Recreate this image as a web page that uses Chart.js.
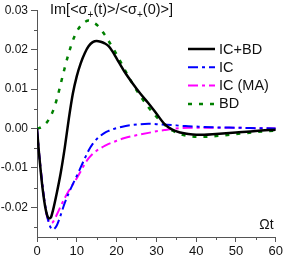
<!DOCTYPE html>
<html>
<head>
  <meta charset="UTF-8" />
  <title>Im sigma</title>
  <script src="https://cdn.jsdelivr.net/npm/chart.js"></script>
  <style>
    body{margin:0;background:#fff;}
    #c{display:block;}
  </style>
</head>
<body>
  <canvas id="c" width="285" height="256"></canvas>
  <script>
    // data
    const xValues = [0,0.5,1,1.5,2,2.5,3,3.5,4,5,6,7,8,9,10,11,12,13,14,15,16,17,18,19,20,22,24,26,28,30,32,34,36,38,40,42,45,50,55,60];
    const icbd = [0,-0.0062,-0.0115,-0.016,-0.0195,-0.0218,-0.0228,-0.0225,-0.0208,-0.0162,-0.011,-0.0047,0.0025,0.0088,0.0133,0.0166,0.0191,0.0209,0.0219,0.0222,0.022,0.0216,0.0209,0.0195,0.0178,0.0144,0.0115,0.0088,0.0064,0.0038,0.0012,-0.0003,-0.001,-0.0014,-0.0016,-0.0016,-0.0014,-0.001,-0.0006,-0.0003];
    const ic = [0,-0.006,-0.011,-0.0155,-0.0192,-0.022,-0.024,-0.0252,-0.0256,-0.0245,-0.0218,-0.0188,-0.0163,-0.0141,-0.012,-0.0098,-0.0076,-0.0055,-0.0039,-0.0027,-0.0018,-0.0011,-0.0006,-0.0002,0.0001,0.0006,0.0009,0.0011,0.0012,0.0011,0.001,0.0009,0.0007,0.0006,0.0005,0.0004,0.0003,0.0002,0.0001,0];
    const icma = [0,-0.006,-0.011,-0.0155,-0.0193,-0.0222,-0.0236,-0.024,-0.0237,-0.0218,-0.0196,-0.0176,-0.0158,-0.0142,-0.0126,-0.0108,-0.009,-0.0075,-0.0064,-0.0056,-0.005,-0.0044,-0.0039,-0.0035,-0.0031,-0.0024,-0.0019,-0.0015,-0.0011,-0.0007,-0.0004,-0.0001,0.0001,0.0002,0.0002,0.0002,0.0002,0.0002,0.0001,0];
    const bd = [0,0.0001,0.0003,0.0007,0.0011,0.0016,0.0024,0.0033,0.0044,0.0075,0.0115,0.0155,0.0192,0.0223,0.0246,0.0261,0.027,0.0274,0.0269,0.0263,0.0252,0.0238,0.0222,0.0205,0.0188,0.015,0.0114,0.0082,0.0054,0.003,0.001,-0.0005,-0.0014,-0.0019,-0.0021,-0.0021,-0.0019,-0.0014,-0.0009,-0.0005];

    const seriesLabels = ['IC+BD','IC','IC (MA)','BD'];
    const xTicks = [0,10,20,30,40,50,60];
    const xTickLabels = ['0','10','20','30','40','50','60'];
    const xMinor = [5,15,25,35,45,55];
    const yTicks = [-0.02,-0.01,0,0.01,0.02,0.03];
    const yTickLabels = ['-0.02','-0.01','0.00','0.01','0.02','0.03'];
    const yMinor = [-0.025,-0.015,-0.005,0.005,0.015,0.025];
    const yTitle = ['Im[<σ','+','(t)>/<σ','+','(0)>]'];
    const xTitle = 'Ωt';

    const FONT = '"Liberation Sans", Arial, sans-serif';
    const AXIS = '#555';

    const pts = arr => xValues.map((x,i)=>({x:x, y:arr[i]}));

    const decor = {
      id:'decor',
      afterDraw(chart){
        const ctx = chart.ctx, xs = chart.scales.x, ys = chart.scales.y;
        ctx.save();
        // minor ticks
        ctx.strokeStyle = AXIS; ctx.lineWidth = 1;
        ctx.beginPath();
        xMinor.forEach(v=>{
          const p = Math.round(xs.getPixelForValue(v))+0.5;
          ctx.moveTo(p, ys.bottom); ctx.lineTo(p, ys.bottom+3);
        });
        yMinor.forEach(v=>{
          const p = Math.round(ys.getPixelForValue(v))+0.5;
          ctx.moveTo(xs.left, p); ctx.lineTo(xs.left-3, p);
        });
        ctx.stroke();

        // title with subscripts
        ctx.fillStyle = '#111';
        ctx.textBaseline = 'alphabetic';
        let tx = 50;
        yTitle.forEach((s,i)=>{
          const sub = i%2===1;
          ctx.font = (sub ? '10px ' : '14.5px ') + FONT;
          ctx.fillText(s, tx, sub ? 18 : 14);
          tx += ctx.measureText(s).width;
        });

        // x axis title
        ctx.font = '14px ' + FONT;
        ctx.textAlign = 'center';
        ctx.textBaseline = 'middle';
        ctx.fillText(xTitle, 266.5, 225);

        // legend
        ctx.textAlign = 'left';
        ctx.font = '14.5px ' + FONT;
        chart.data.datasets.forEach((ds,i)=>{
          const y = 49 + i*18.3;
          ctx.strokeStyle = ds.borderColor;
          ctx.lineWidth = ds.borderWidth;
          ctx.setLineDash(ds.borderDash || []);
          ctx.beginPath();
          ctx.moveTo(188, y); ctx.lineTo(215, y);
          ctx.stroke();
          ctx.setLineDash([]);
          ctx.fillStyle = '#111';
          ctx.fillText(ds.label, 219, y+0.5);
        });
        ctx.restore();
      }
    };

    new Chart(document.getElementById('c'), {
      type:'line',
      data:{
        datasets:[
          {label:seriesLabels[0], data:pts(icbd), borderColor:'#000000', borderWidth:2.5},
          {label:seriesLabels[1], data:pts(ic), borderColor:'#0000ff', borderWidth:2, borderDash:[10,4,3,4]},
          {label:seriesLabels[2], data:pts(icma), borderColor:'#ff00ff', borderWidth:2, borderDash:[10,4,3,4]},
          {label:seriesLabels[3], data:pts(bd), borderColor:'#008000', borderWidth:2.5, borderDash:[4,7]}
        ]
      },
      options:{
        responsive:false,
        animation:false,
        layout:{padding:{top:10,right:8,left:0,bottom:0}},
        elements:{point:{radius:0}, line:{cubicInterpolationMode:'monotone', fill:false}},
        plugins:{legend:{display:false}, tooltip:{enabled:false}},
        scales:{
          x:{
            type:'linear', min:0, max:60,
            afterBuildTicks:s=>{ s.ticks = xTicks.map(v=>({value:v})); },
            afterFit:s=>{ s.height = 19; },
            grid:{drawOnChartArea:false, tickLength:5, color:AXIS},
            border:{color:AXIS},
            ticks:{padding:2, color:'#111', font:{family:FONT, size:13}, maxRotation:0,
              callback:(v,i)=>xTickLabels[i]}
          },
          y:{
            min:-0.0275, max:0.03,
            afterBuildTicks:s=>{ s.ticks = yTicks.map(v=>({value:v})); },
            afterFit:s=>{ s.width = 37; },
            grid:{drawOnChartArea:false, tickLength:6, color:AXIS},
            border:{color:AXIS},
            ticks:{padding:3, color:'#111', font:{family:FONT, size:12},
              callback:(v,i)=>yTickLabels[i]}
          }
        }
      },
      plugins:[decor]
    });
  </script>
</body>
</html>
